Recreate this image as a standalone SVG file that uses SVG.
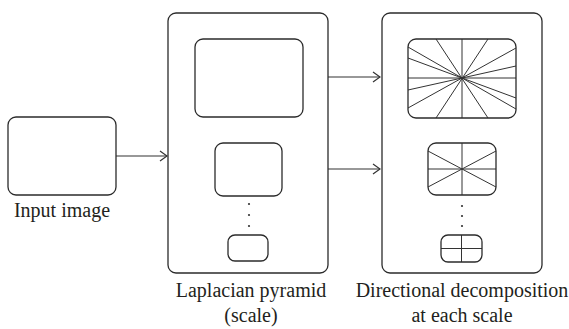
<svg xmlns="http://www.w3.org/2000/svg" width="569" height="329" viewBox="0 0 569 329">
<style>
.box{fill:#fff;stroke:#2b2b2b;stroke-width:1.3}
.in{fill:none;stroke:#2b2b2b;stroke-width:1.3}
.ray{stroke:#333;stroke-width:1}
.conn{fill:none;stroke:#333;stroke-width:1.1}
.lbl{font-family:"Liberation Serif",serif;font-size:20px;fill:#231f20;text-anchor:middle}
.dot{fill:#333}
</style>
<defs>
<marker id="ah" markerWidth="10" markerHeight="12" refX="9" refY="6" orient="auto" markerUnits="userSpaceOnUse">
<path d="M2,1 L9,6 L2,11" fill="none" stroke="#333" stroke-width="1.2"/>
</marker>
<clipPath id="c1"><rect x="408" y="39" width="108" height="79" rx="8"/></clipPath>
<clipPath id="c2"><rect x="428" y="143" width="68" height="52" rx="8"/></clipPath>
<clipPath id="c3"><rect x="441" y="235" width="41" height="27" rx="7"/></clipPath>
</defs>
<g id="connectors">
<line class="conn" x1="116" y1="156" x2="167" y2="156" marker-end="url(#ah)"/>
<line class="conn" x1="328" y1="77" x2="380" y2="77" marker-end="url(#ah)"/>
<line class="conn" x1="328" y1="169" x2="380" y2="169" marker-end="url(#ah)"/>
</g>
<g id="input">
<rect class="box" x="8" y="117" width="108" height="78" rx="8"/>
<text class="lbl" x="62" y="217">Input image</text>
</g>
<g id="laplacian">
<rect class="box" x="168" y="13" width="160" height="260" rx="8"/>
<rect class="in" x="195" y="39" width="108" height="78" rx="8"/>
<rect class="in" x="215" y="143" width="67" height="53" rx="8"/>
<circle class="dot" cx="249" cy="204" r="1.1"/>
<circle class="dot" cx="249" cy="215" r="1.1"/>
<circle class="dot" cx="249" cy="226" r="1.1"/>
<rect class="in" x="228" y="235" width="40" height="26" rx="7"/>
<text class="lbl" x="251" y="297">Laplacian pyramid</text>
<text class="lbl" x="251" y="322">(scale)</text>
</g>
<g id="directional">
<rect class="box" x="382" y="13" width="160" height="260" rx="8"/>
<g clip-path="url(#c1)">
<line class="ray" x1="462" y1="39" x2="462" y2="118"/>
<line class="ray" x1="408" y1="78" x2="516" y2="78"/>
<line class="ray" x1="436" y1="39" x2="488" y2="118"/>
<line class="ray" x1="488" y1="39" x2="436" y2="118"/>
<line class="ray" x1="408" y1="47" x2="516" y2="109"/>
<line class="ray" x1="408" y1="58" x2="516" y2="98"/>
<line class="ray" x1="408" y1="90" x2="516" y2="66"/>
<line class="ray" x1="408" y1="108" x2="516" y2="48"/>
</g>
<rect class="in" x="408" y="39" width="108" height="79" rx="8"/>
<g clip-path="url(#c2)">
<line class="ray" x1="462" y1="143" x2="462" y2="195"/>
<line class="ray" x1="428" y1="169" x2="496" y2="169"/>
<line class="ray" x1="428" y1="151" x2="496" y2="187"/>
<line class="ray" x1="428" y1="187" x2="496" y2="151"/>
</g>
<rect class="in" x="428" y="143" width="68" height="52" rx="8"/>
<circle class="dot" cx="462" cy="206" r="1.1"/>
<circle class="dot" cx="462" cy="216" r="1.1"/>
<circle class="dot" cx="462" cy="226" r="1.1"/>
<g clip-path="url(#c3)">
<line class="ray" x1="461.5" y1="235" x2="461.5" y2="262"/>
<line class="ray" x1="441" y1="248.5" x2="482" y2="248.5"/>
</g>
<rect class="in" x="441" y="235" width="41" height="27" rx="7"/>
<text class="lbl" x="462" y="297">Directional decomposition</text>
<text class="lbl" x="462" y="322">at each scale</text>
</g>
</svg>
